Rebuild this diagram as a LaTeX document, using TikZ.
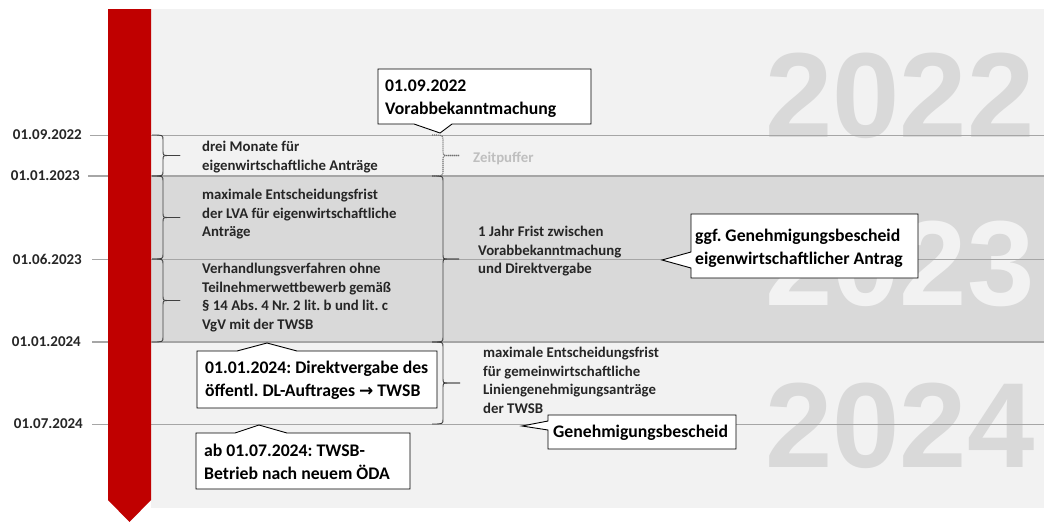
\documentclass[tikz,border=0pt]{standalone}
\usepackage{fontspec}
\setmainfont{Carlito}
\newfontfamily\yearfont{Liberation Sans}
\newfontfamily\symfont{DejaVu Sans}
\frenchspacing
\definecolor{tlred}{HTML}{C00000}
\definecolor{panel}{HTML}{F2F2F2}
\definecolor{band}{HTML}{D9D9D9}
\definecolor{lgray}{HTML}{A6A6A6}
\definecolor{bracegray}{HTML}{404040}
\definecolor{txt}{HTML}{262626}
\definecolor{puffer}{HTML}{BFBFBF}
\definecolor{dotgray}{HTML}{707070}
\tikzset{
  gridline/.style={draw=lgray, line width=1pt},
  bandline/.style={draw=lgray, line width=1.6pt},
  datelabel/.style={font=\fontsize{15pt}{17pt}\selectfont\bfseries, text=txt, anchor=east, inner sep=0pt},
  smalltext/.style={font=\fontsize{14.8pt}{18.5pt}\selectfont\bfseries, text=txt, align=left, anchor=north west, inner sep=0pt},
  callouttext/.style={font=\fontsize{17.7pt}{23pt}\selectfont\bfseries, text=black, align=left, anchor=north west, inner sep=0pt},
  calloutbox/.style={draw=black, fill=white, line width=0.9pt, line join=miter},
  bracestyle/.style={draw=bracegray, line width=0.9pt},
  dottedbrace/.style={draw=dotgray, dash pattern=on 1.2pt off 0.8pt, line width=1.1pt},
  yeartext/.style={font={\yearfont\bfseries\fontsize{121pt}{121pt}\selectfont}, anchor=base west, inner sep=0pt},
}
\newcommand\tlbrace[6][]{%
  \draw[bracestyle,#1] (#2,#5) .. controls (#3,#5) .. (#3,{#5+5}) -- (#3,{(#5+#6)/2-5}) .. controls (#3,{(#5+#6)/2}) .. ({#3+6},{(#5+#6)/2}) -- (#4,{(#5+#6)/2});
  \draw[bracestyle,#1] (#4,{(#5+#6)/2}) -- ({#3+6},{(#5+#6)/2}) .. controls (#3,{(#5+#6)/2}) .. (#3,{(#5+#6)/2+5}) -- (#3,{#6-5}) .. controls (#3,#6) .. (#2,#6);
}
\begin{document}
\begin{tikzpicture}[x=1pt,y=-1pt]
\useasboundingbox (0,0) rectangle (1044,522);
\fill[white] (0,0) rectangle (1044,522);
% panel and band
\fill[panel] (151,9) rectangle (1044,508);
\fill[band] (151,176) rectangle (1044,342);
% years
\node[yeartext, text=band] (y2022) at (765,137) {2022};
\node[yeartext, text=panel] (y2023) at (765,305) {2023};
\node[yeartext, text=band] (y2024) at (765,467) {2024};
% grid lines
\coordinate (l1a) at (90,135);  \coordinate (l1b) at (1044,135);
\coordinate (l2a) at (88,176);  \coordinate (l2b) at (1044,176);
\coordinate (l3a) at (92,259);  \coordinate (l3b) at (1044,259);
\coordinate (l4a) at (92,342);  \coordinate (l4b) at (1044,342);
\coordinate (l5a) at (92,424);  \coordinate (l5b) at (1044,424);
\draw[gridline] (l1a) -- (l1b);
\draw[bandline] (l2a) -- (l2b);
\draw[gridline] (l3a) -- (l3b);
\draw[bandline] (l4a) -- (l4b);
\draw[gridline] (l5a) -- (l5b);
% red bar
\fill[tlred] (108,9) -- (151,9) -- (151,500) -- (129.5,522) -- (108,500) -- cycle;
% date labels
\node[datelabel] (d1) at (82,135) {01.09.2022};
\node[datelabel] (d2) at (80,176) {01.01.2023};
\node[datelabel] (d3) at (82,259) {01.06.2023};
\node[datelabel] (d4) at (81,342) {01.01.2024};
\node[datelabel] (d5) at (83,424) {01.07.2024};
% braces
\tlbrace{152}{163}{180}{135}{176}
\tlbrace{152}{163}{180}{176}{259}
\tlbrace{152}{163}{180}{259}{342}
\tlbrace[dottedbrace]{432}{443}{459}{135}{176}
\tlbrace{432}{443}{459}{176}{342}
\tlbrace{432}{443}{460}{342}{424}
% texts
\node[smalltext] (t1) at (202,141) {drei Monate für\\eigenwirtschaftliche Anträge};
\node[smalltext] (t2) at (202,189) {maximale Entscheidungsfrist\\der LVA für eigenwirtschaftliche\\Anträge};
\node[smalltext] (t3) at (202,263) {Verhandlungsverfahren ohne\\Teilnehmerwettbewerb gemäß\\§ 14 Abs. 4 Nr. 2 lit. b und lit. c\\VgV mit der TWSB};
\node[smalltext] (t4) at (478,226) {1 Jahr Frist zwischen\\Vorabbekanntmachung\\und Direktvergabe};
\node[smalltext] (t5) at (483,347) {maximale Entscheidungsfrist\\für gemeinwirtschaftliche\\Liniengenehmigungsanträge\\der TWSB};
\node[smalltext, text=puffer] (t6) at (473,152) {Zeitpuffer};
% callouts
\filldraw[calloutbox] (378,69) -- (591,69) -- (591,124) -- (452,124) -- (440,133) -- (414,124) -- (378,124) -- cycle;
\node[callouttext] (c1) at (385,80) {01.09.2022\\Vorabbekanntmachung};
\filldraw[calloutbox] (691,214) -- (918,214) -- (918,278) -- (691,278) -- (691,268) -- (662,260) -- (691,252) -- cycle;
\node[callouttext] (c2) at (695,229) {ggf. Genehmigungsbescheid\\eigenwirtschaftlicher Antrag};
\filldraw[calloutbox] (197,351) -- (237,351) -- (267,343) -- (297,351) -- (437,351) -- (437,408) -- (197,408) -- cycle;
\node[callouttext] (c3) at (205,361) {01.01.2024: Direktvergabe des\\öffentl. DL-Auftrages {\symfont\bfseries\fontsize{17pt}{17pt}\selectfont →} TWSB};
\filldraw[calloutbox] (196,433) -- (235,433) -- (259,425) -- (287,433) -- (410,433) -- (410,489) -- (196,489) -- cycle;
\node[callouttext] (c4) at (204,444) {ab 01.07.2024: TWSB-\\Betrieb nach neuem ÖDA};
\filldraw[calloutbox] (548,415) -- (736,415) -- (736,449) -- (548,449) -- (548,430) -- (522,426) -- (548,421) -- cycle;
\node[callouttext] (c5) at (553,425) {Genehmigungsbescheid};
\end{tikzpicture}
\end{document}
